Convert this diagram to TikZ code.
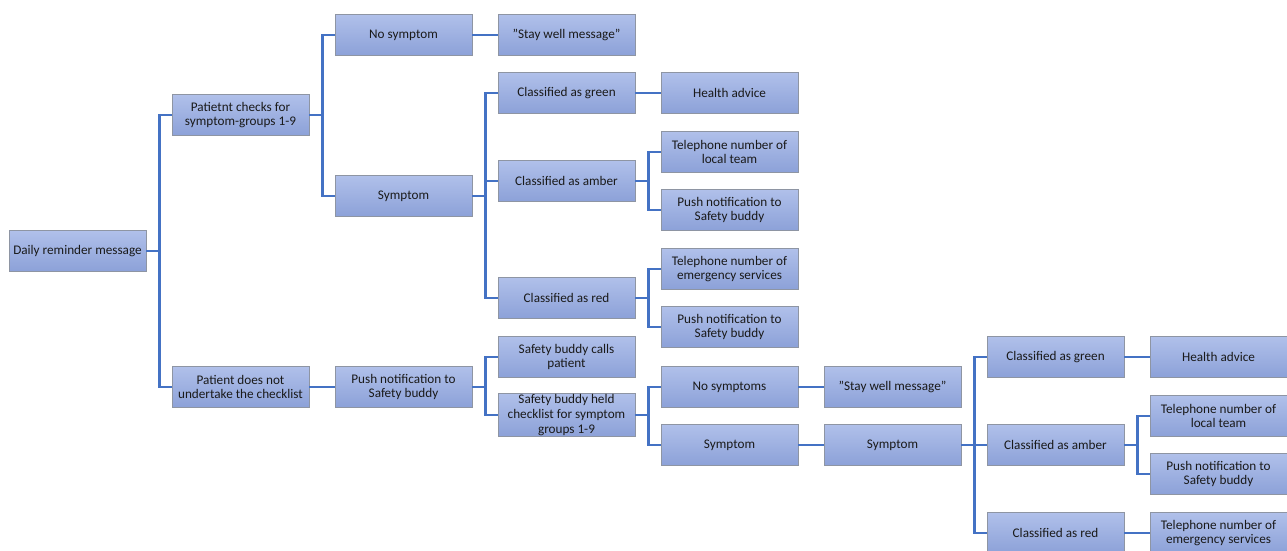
\documentclass[tikz,border=0pt]{standalone}
\usepackage{fontspec}
\setmainfont{Carlito}
\usetikzlibrary{shadows}
\definecolor{boxtop}{HTML}{B0C0EA}
\definecolor{boxbot}{HTML}{8CA1D8}
\definecolor{boxline}{HTML}{8E95A3}
\definecolor{wire}{HTML}{4472C4}
\definecolor{txt}{HTML}{1A1A1A}
\newcommand{\dq}{\symbol{34}}
\tikzset{
  bx/.style={rectangle, draw=boxline, line width=0.9pt, top color=boxtop, bottom color=boxbot,
    minimum width=137pt, minimum height=41pt, inner sep=1pt, align=center, text=txt,
    font=\fontsize{13.2pt}{14.6pt}\selectfont,
    drop shadow={shadow xshift=0.8pt, shadow yshift=-0.8pt, opacity=0.35, fill=black!60}},
  wr/.style={draw=wire, line width=2.8pt}
}
\begin{document}
\begin{tikzpicture}[x=1pt,y=-1pt]
\useasboundingbox (0,0) rectangle (1287,550);
\begin{scope}
\clip (0,0) rectangle (1287,550);
% column 1
\node[bx] (d) at (77.5,251) {Daily reminder message};
% column 2
\node[bx] (p1) at (240.5,115) {Patietnt checks for\\symptom-groups 1-9};
\node[bx] (p2) at (240.5,387) {Patient does not\\undertake the checklist};
% column 3
\node[bx] (ns) at (403.5,35) {No symptom};
\node[bx] (sym) at (403.5,196) {Symptom};
\node[bx] (pn) at (403.5,387) {Push notification to\\Safety buddy};
% column 4
\node[bx] (sw) at (566.5,35) {\dq Stay well message\dq};
\node[bx] (cg) at (566.5,93) {Classified as green};
\node[bx] (ca) at (566.5,181) {Classified as amber};
\node[bx] (cr) at (566.5,298) {Classified as red};
\node[bx] (sbc) at (566.5,357) {Safety buddy calls\\patient};
\node[bx] (sbh) at (566.5,415) {Safety buddy held\\checklist for symptom\\groups 1-9};
% column 5
\node[bx] (ha) at (729.5,93) {Health advice};
\node[bx] (tl) at (729.5,152) {Telephone number of\\local team};
\node[bx] (pb) at (729.5,210) {Push notification to\\Safety buddy};
\node[bx] (te) at (729.5,269) {Telephone number of\\emergency services};
\node[bx] (pb2) at (729.5,327) {Push notification to\\Safety buddy};
\node[bx] (nss) at (729.5,387) {No symptoms};
\node[bx] (sym2) at (729.5,445) {Symptom};
% column 6
\node[bx] (sw2) at (892.5,387) {\dq Stay well message\dq};
\node[bx] (sym3) at (892.5,445) {Symptom};
% column 7
\node[bx] (cg2) at (1055.5,357) {Classified as green};
\node[bx] (ca2) at (1055.5,445) {Classified as amber};
\node[bx] (cr2) at (1055.5,533) {Classified as red};
% column 8
\node[bx] (ha2) at (1218.5,357) {Health advice};
\node[bx] (tl2) at (1218.5,416) {Telephone number of\\local team};
\node[bx] (pb3) at (1218.5,474) {Push notification to\\Safety buddy};
\node[bx] (te2) at (1218.5,533) {Telephone number of\\emergency services};
% connectors
\foreach \p/\c in {d/p1, d/p2, p1/ns, p1/sym, p2/pn, ns/sw, sym/cg, sym/ca, sym/cr,
  pn/sbc, pn/sbh, cg/ha, ca/tl, ca/pb, cr/te, cr/pb2, sbh/nss, sbh/sym2,
  nss/sw2, sym2/sym3, sym3/cg2, sym3/ca2, sym3/cr2, cg2/ha2, ca2/tl2, ca2/pb3, cr2/te2}
  \draw[wr] (\p.east) -- ++(13,0) |- (\c.west);
\end{scope}
\end{tikzpicture}
\end{document}
